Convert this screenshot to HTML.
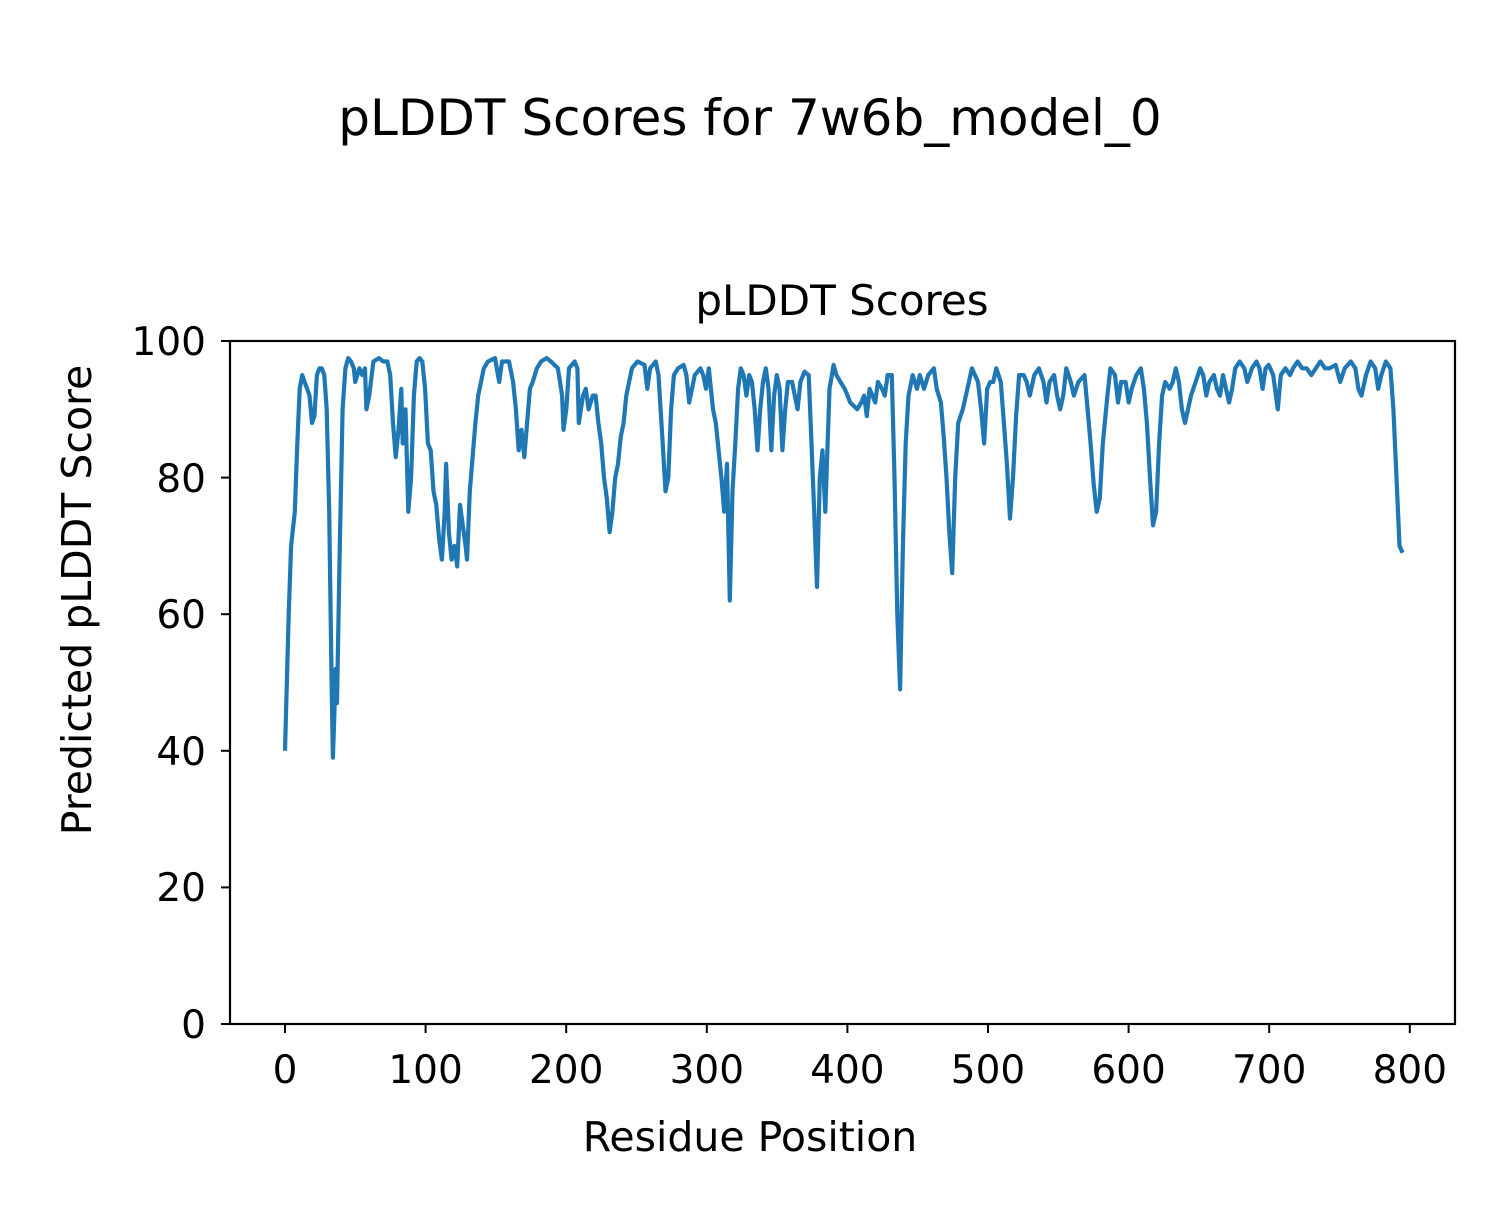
<!DOCTYPE html>
<html><head><meta charset="utf-8"><style>
html,body{margin:0;padding:0;background:#fff}
svg text{font-family:"DejaVu Sans","Liberation Sans",sans-serif;fill:#000}
</style></head><body>
<svg id="s" width="1500" height="1200" xmlns="http://www.w3.org/2000/svg">
<rect width="1500" height="1200" fill="#fff"/>
<text x="750" y="135" font-size="50" text-anchor="middle">pLDDT Scores for 7w6b_model_0</text>
<text x="842" y="315" font-size="42" text-anchor="middle">pLDDT Scores</text>
<polyline id="ln" fill="none" stroke="#1f77b4" stroke-width="4.2" stroke-linejoin="round" points=""/>
<rect x="230" y="341" width="1225" height="683" fill="none" stroke="#000" stroke-width="2.2"/>
<g stroke="#000" stroke-width="2">
<line x1="285" y1="1024" x2="285" y2="1033"/><line x1="425.6" y1="1024" x2="425.6" y2="1033"/><line x1="566.2" y1="1024" x2="566.2" y2="1033"/><line x1="706.8" y1="1024" x2="706.8" y2="1033"/><line x1="847.4" y1="1024" x2="847.4" y2="1033"/><line x1="988" y1="1024" x2="988" y2="1033"/><line x1="1128.6" y1="1024" x2="1128.6" y2="1033"/><line x1="1269.2" y1="1024" x2="1269.2" y2="1033"/><line x1="1409.8" y1="1024" x2="1409.8" y2="1033"/>
<line x1="221" y1="1024" x2="230" y2="1024"/><line x1="221" y1="887.4" x2="230" y2="887.4"/><line x1="221" y1="750.8" x2="230" y2="750.8"/><line x1="221" y1="614.2" x2="230" y2="614.2"/><line x1="221" y1="477.6" x2="230" y2="477.6"/><line x1="221" y1="341" x2="230" y2="341"/>
</g>
<g font-size="39" text-anchor="middle">
<text x="285" y="1083">0</text><text x="425.6" y="1083">100</text><text x="566.2" y="1083">200</text><text x="706.8" y="1083">300</text><text x="847.4" y="1083">400</text><text x="988" y="1083">500</text><text x="1128.6" y="1083">600</text><text x="1269.2" y="1083">700</text><text x="1409.8" y="1083">800</text>
</g>
<g font-size="39" text-anchor="end">
<text x="206" y="1038">0</text><text x="206" y="901">20</text><text x="206" y="765">40</text><text x="206" y="628">60</text><text x="206" y="492">80</text><text x="206" y="355">100</text>
</g>
<text x="750" y="1151" font-size="41" text-anchor="middle">Residue Position</text>
<text transform="translate(91,600) rotate(-90)" font-size="41" text-anchor="middle">Predicted pLDDT Score</text>
</svg>
<script>
var d=[0,40,3,60,5,70,8,75,10,85,12,93,14,95,18,93,20,92,22,88,24,89,26,95,28,96,30,96,32,95,34,90,36,75,38,50,39,39,40,45,41,52,42,47,44,70,46,90,48,96,50,97.5,52,97,54,96,55,94,58,96,60,95,62,96,63,90,65,92,68,97,72,97.5,75,97,78,97,80,95,82,88,84,83,86,87,88,93,89,85,91,90,93,75,95,80,97,92,99,97,101,97.5,103,97,105,93,107,85,109,84,111,78,113,76,115,71,117,68,119,75,120,82,122,72,124,68,126,70,128,67,130,76,132,73,134,70,135,68,137,78,139,83,141,88,143,92,145,94,147,96,150,97,155,97.5,158,94,160,97,165,97,168,94,170,90,172,84,174,87,176,83,178,88,180,93,182,94,185,96,188,97,192,97.5,195,97,200,96,203,92,204,87,206,90,208,96,212,97,214,96,215,88,218,92,220,93,222,90,225,92,227,92,229,88,231,85,233,80,235,77,237,72,239,75,241,80,243,82,245,86,247,88,249,92,251,94,253,96,257,97,262,96.5,264,93,266,96,270,97,272,95,275,85,277,78,279,80,281,90,283,95,286,96,290,96.5,292,95,294,91,296,93,298,95,302,96,304,95,306,93,308,96,310,92,311,90,313,88,315,84,317,80,319,75,321,82,323,62,325,78,327,85,329,93,331,96,333,95,335,92,337,95,339,94,341,90,343,84,345,90,347,94,349,96,351,93,353,84,355,92,357,95,359,93,361,84,363,90,365,94,368,94,370,92,372,90,374,94,377,95.5,380,95,382,85,384,75,386,64,388,80,390,84,392,75,395,93,398,96.5,400,95,403,94,406,93,408,92,410,91,415,90,418,91,420,92,422,89,424,93,426,92,428,91,430,94,433,93,435,92,437,95,440,95,442,80,444,60,446,49,448,70,450,85,452,92,455,95,458,93,460,95,463,93,466,95,470,96,472,93,475,91,477,86,479,80,481,72,483,66,485,80,487,88,490,90,493,93,496,96,498,95,500,94,502,90,504,85,506,93,508,94,510,94,512,96,515,94,517,88,519,82,521,74,523,80,525,89,527,95,530,95,532,94,534,92,537,95,540,96,543,94,545,91,547,94,550,95,552,92,554,90,556,92,558,96,561,94,563,92,566,94,570,95,572,90,574,85,576,79,578,75,580,77,582,85,585,92,587,96,590,95,592,91,594,94,597,94,599,91,601,93,604,95,607,96,609,93,611,88,613,80,615,73,617,75,619,85,621,92,623,94,626,93,628,94,630,96,632,94,634,90,636,88,638,90,640,92,643,94,646,96,648,95,650,92,652,94,655,95,657,93,659,92,661,95,663,93,665,91,667,93,669,96,672,97,675,96,677,94,680,96,683,97,685,96,687,93,689,96,691,96.5,694,95,697,90,699,95,702,96,705,95,707,96,710,97,713,96,716,96,719,95,722,96,725,97,728,96,731,96,735,96.5,738,94,741,96,745,97,748,96,750,93,752,92,755,95,758,97,761,96,763,93,765,95,768,97,771,96,773,90,775,80,777,70,779,69];
var A=[[0,0],[39,34],[323,316],[446,437],[483,474],[779,794]];
function m(r){for(var i=1;i<A.length;i++){if(r<=A[i][0]){var a=A[i-1],b=A[i];return a[1]+(r-a[0])*(b[1]-a[1])/(b[0]-a[0]);}}return r;}
var p=[];for(var i=0;i<d.length;i+=2){p.push((285+m(d[i])*1.4075).toFixed(1)+","+(1024-d[i+1]*6.83).toFixed(1));}
document.getElementById("ln").setAttribute("points",p.join(" "));
</script>
</body></html>
